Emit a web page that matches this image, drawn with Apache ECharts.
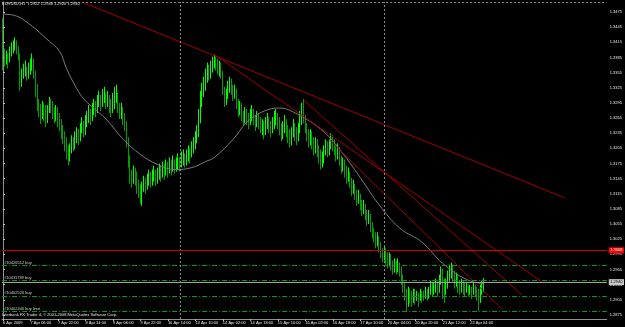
<!DOCTYPE html>
<html><head><meta charset="utf-8">
<script src="https://cdn.jsdelivr.net/npm/echarts@6/dist/echarts.min.js"></script>
<style>html,body{margin:0;padding:0;background:#000;}#c{width:625px;height:327px;}</style>
</head><body><div id="c"></div>
<script>
const symbolTitle = 'EURUSD,H1  1.2922 1.2948 1.2920 1.2940';
const footerText = 'Interbank FX Trader 4, \u00a9 2001-2008 MetaQuotes Software Corp.';
const timeLabels = ['6 Apr 2009','7 Apr 06:00','7 Apr 22:00','8 Apr 14:00','9 Apr 06:00','9 Apr 22:00','10 Apr 14:00','13 Apr 10:00','14 Apr 02:00','14 Apr 18:00','15 Apr 10:00','16 Apr 02:00','16 Apr 18:00','17 Apr 10:00','20 Apr 04:00','20 Apr 20:00','21 Apr 12:00','22 Apr 04:00'];
const priceTicks = [1.2875,1.2905,1.2935,1.2965,1.2995,1.3025,1.3055,1.3085,1.3115,1.3145,1.3175,1.3205,1.3235,1.3265,1.3295,1.3325,1.3355,1.3385,1.3415,1.3445,1.3475];
// [open, close, low, high]
const ohlc = [
[1.3423,1.3393,1.3359,1.3463],[1.3393,1.3383,1.3367,1.3403],[1.3383,1.3387,1.3371,1.3399],[1.3387,1.3379,1.3363,1.3393],[1.3379,1.3393,1.3375,1.3407],
[1.3393,1.3403,1.3387,1.3415],[1.3403,1.3407,1.3393,1.3419],[1.3407,1.3415,1.3399,1.3425],[1.3415,1.3399,1.3391,1.3419],[1.3399,1.3393,1.3379,1.3407],
[1.3393,1.3333,1.3319,1.3393],[1.3333,1.3353,1.3327,1.3363],[1.3353,1.3359,1.3343,1.3373],[1.3359,1.3363,1.3347,1.3379],[1.3363,1.3351,1.3339,1.3367],
[1.3351,1.3359,1.3343,1.3375],[1.3359,1.3367,1.3351,1.3383],[1.3367,1.3379,1.3359,1.3393],[1.3379,1.3353,1.3343,1.3383],[1.3353,1.3323,1.3307,1.3359],
[1.3323,1.3293,1.3279,1.3333],[1.3293,1.3283,1.3267,1.3303],[1.3283,1.3273,1.3253,1.3293],[1.3273,1.3287,1.3263,1.3299],[1.3287,1.3279,1.3259,1.3295],
[1.3279,1.3267,1.3247,1.3291],[1.3267,1.3283,1.3255,1.3291],[1.3283,1.3295,1.3275,1.3307],[1.3295,1.3291,1.3275,1.3303],[1.3291,1.3279,1.3263,1.3299],
[1.3279,1.3271,1.3255,1.3287],[1.3271,1.3279,1.3259,1.3291],[1.3279,1.3267,1.3247,1.3287],[1.3267,1.3253,1.3239,1.3275],[1.3253,1.3243,1.3223,1.3263],
[1.3243,1.3227,1.3213,1.3251],[1.3227,1.3213,1.3199,1.3239],[1.3213,1.3203,1.3183,1.3227],[1.3203,1.3187,1.3171,1.3211],[1.3187,1.3203,1.3179,1.3215],
[1.3203,1.3219,1.3195,1.3231],[1.3219,1.3211,1.3199,1.3227],[1.3211,1.3223,1.3203,1.3239],[1.3223,1.3233,1.3215,1.3247],[1.3233,1.3227,1.3211,1.3243],
[1.3227,1.3243,1.3219,1.3255],[1.3243,1.3251,1.3235,1.3267],[1.3251,1.3239,1.3227,1.3259],[1.3239,1.3255,1.3231,1.3271],[1.3255,1.3267,1.3247,1.3279],
[1.3267,1.3275,1.3255,1.3291],[1.3275,1.3263,1.3251,1.3283],[1.3263,1.3279,1.3259,1.3295],[1.3279,1.3291,1.3271,1.3303],[1.3291,1.3283,1.3267,1.3299],
[1.3283,1.3295,1.3275,1.3311],[1.3295,1.3303,1.3287,1.3319],[1.3303,1.3295,1.3279,1.3311],[1.3295,1.3307,1.3287,1.3323],[1.3307,1.3311,1.3295,1.3327],
[1.3311,1.3299,1.3283,1.3315],[1.3299,1.3303,1.3287,1.3319],[1.3303,1.3291,1.3275,1.3311],[1.3291,1.3283,1.3267,1.3303],[1.3283,1.3295,1.3275,1.3315],
[1.3295,1.3303,1.3283,1.3327],[1.3303,1.3311,1.3295,1.3331],[1.3311,1.3287,1.3275,1.3315],[1.3287,1.3275,1.3263,1.3295],[1.3275,1.3283,1.3263,1.3295],
[1.3283,1.3267,1.3251,1.3287],[1.3267,1.3253,1.3239,1.3275],[1.3253,1.3223,1.3207,1.3259],[1.3223,1.3183,1.3167,1.3227],[1.3183,1.3151,1.3135,1.3191],
[1.3151,1.3143,1.3127,1.3163],[1.3143,1.3159,1.3135,1.3171],[1.3159,1.3147,1.3131,1.3167],[1.3147,1.3131,1.3115,1.3159],[1.3131,1.3123,1.3107,1.3143],
[1.3123,1.3111,1.3095,1.3135],[1.3111,1.3127,1.3091,1.3139],[1.3127,1.3139,1.3119,1.3151],[1.3139,1.3131,1.3115,1.3147],[1.3131,1.3143,1.3123,1.3155],
[1.3143,1.3151,1.3131,1.3163],[1.3151,1.3139,1.3127,1.3159],[1.3139,1.3147,1.3131,1.3163],[1.3147,1.3155,1.3139,1.3171],[1.3155,1.3147,1.3131,1.3163],
[1.3147,1.3151,1.3135,1.3167],[1.3151,1.3159,1.3143,1.3175],[1.3159,1.3155,1.3139,1.3171],[1.3155,1.3163,1.3147,1.3179],[1.3163,1.3159,1.3143,1.3175],
[1.3159,1.3167,1.3151,1.3183],[1.3167,1.3163,1.3147,1.3179],[1.3163,1.3171,1.3155,1.3187],[1.3171,1.3167,1.3151,1.3183],[1.3167,1.3175,1.3159,1.3191],
[1.3175,1.3167,1.3155,1.3183],[1.3167,1.3171,1.3159,1.3187],[1.3171,1.3179,1.3163,1.3195],[1.3179,1.3173,1.3159,1.3187],[1.3173,1.3183,1.3167,1.3199],
[1.3183,1.3187,1.3171,1.3203],[1.3187,1.3179,1.3167,1.3195],[1.3179,1.3187,1.3171,1.3203],[1.3187,1.3195,1.3179,1.3211],[1.3195,1.3191,1.3175,1.3207],
[1.3191,1.3203,1.3187,1.3219],[1.3203,1.3211,1.3195,1.3227],[1.3211,1.3223,1.3203,1.3239],[1.3223,1.3231,1.3215,1.3251],[1.3231,1.3263,1.3227,1.3283],
[1.3263,1.3295,1.3255,1.3319],[1.3295,1.3315,1.3287,1.3335],[1.3315,1.3331,1.3307,1.3347],[1.3331,1.3347,1.3319,1.3363],[1.3347,1.3359,1.3335,1.3375],
[1.3359,1.3351,1.3339,1.3371],[1.3351,1.3367,1.3343,1.3379],[1.3367,1.3375,1.3355,1.3387],[1.3375,1.3379,1.3363,1.3391],[1.3379,1.3371,1.3359,1.3387],
[1.3371,1.3363,1.3351,1.3383],[1.3363,1.3367,1.3347,1.3379],[1.3367,1.3355,1.3343,1.3375],[1.3355,1.3323,1.3311,1.3359],[1.3323,1.3303,1.3287,1.3327],
[1.3303,1.3311,1.3291,1.3323],[1.3311,1.3327,1.3303,1.3339],[1.3327,1.3335,1.3315,1.3347],[1.3335,1.3323,1.3311,1.3343],[1.3323,1.3311,1.3299,1.3331],
[1.3311,1.3319,1.3303,1.3331],[1.3319,1.3295,1.3283,1.3323],[1.3295,1.3279,1.3267,1.3303],[1.3279,1.3287,1.3271,1.3299],[1.3287,1.3271,1.3259,1.3295],
[1.3271,1.3263,1.3251,1.3279],[1.3263,1.3275,1.3255,1.3287],[1.3275,1.3267,1.3251,1.3283],[1.3267,1.3259,1.3243,1.3275],[1.3259,1.3271,1.3251,1.3283],
[1.3271,1.3279,1.3259,1.3291],[1.3279,1.3263,1.3251,1.3283],[1.3263,1.3255,1.3239,1.3271],[1.3255,1.3267,1.3247,1.3279],[1.3267,1.3259,1.3243,1.3275],
[1.3259,1.3247,1.3235,1.3267],[1.3247,1.3251,1.3231,1.3263],[1.3251,1.3239,1.3223,1.3259],[1.3239,1.3255,1.3231,1.3267],[1.3255,1.3263,1.3243,1.3275],
[1.3263,1.3251,1.3235,1.3267],[1.3251,1.3243,1.3227,1.3259],[1.3243,1.3255,1.3235,1.3267],[1.3255,1.3263,1.3243,1.3279],[1.3263,1.3271,1.3251,1.3283],
[1.3271,1.3259,1.3243,1.3275],[1.3259,1.3247,1.3231,1.3267],[1.3247,1.3235,1.3219,1.3255],[1.3235,1.3247,1.3223,1.3259],[1.3247,1.3259,1.3235,1.3271],
[1.3259,1.3243,1.3227,1.3263],[1.3243,1.3231,1.3215,1.3251],[1.3231,1.3223,1.3207,1.3243],[1.3223,1.3235,1.3211,1.3247],[1.3235,1.3247,1.3227,1.3263],
[1.3247,1.3239,1.3219,1.3255],[1.3239,1.3227,1.3211,1.3247],[1.3227,1.3243,1.3219,1.3255],[1.3243,1.3263,1.3235,1.3279],[1.3263,1.3283,1.3251,1.3295],
[1.3283,1.3267,1.3255,1.3303],[1.3267,1.3251,1.3235,1.3271],[1.3251,1.3235,1.3219,1.3255],[1.3235,1.3223,1.3207,1.3243],[1.3223,1.3231,1.3211,1.3243],
[1.3231,1.3219,1.3203,1.3239],[1.3219,1.3207,1.3191,1.3227],[1.3207,1.3215,1.3195,1.3227],[1.3215,1.3203,1.3187,1.3223],[1.3203,1.3191,1.3175,1.3211],
[1.3191,1.3179,1.3163,1.3203],[1.3179,1.3187,1.3167,1.3199],[1.3187,1.3203,1.3175,1.3211],[1.3203,1.3211,1.3191,1.3223],[1.3211,1.3199,1.3187,1.3219],
[1.3199,1.3211,1.3191,1.3223],[1.3211,1.3223,1.3203,1.3235],[1.3223,1.3215,1.3199,1.3231],[1.3215,1.3203,1.3191,1.3223],[1.3203,1.3191,1.3179,1.3211],
[1.3191,1.3203,1.3183,1.3215],[1.3203,1.3183,1.3171,1.3207],[1.3183,1.3167,1.3155,1.3191],[1.3167,1.3175,1.3159,1.3187],[1.3175,1.3163,1.3147,1.3183],
[1.3163,1.3147,1.3135,1.3171],[1.3147,1.3155,1.3139,1.3167],[1.3155,1.3139,1.3127,1.3159],[1.3139,1.3123,1.3111,1.3147],[1.3123,1.3131,1.3115,1.3143],
[1.3131,1.3115,1.3103,1.3135],[1.3115,1.3103,1.3091,1.3123],[1.3103,1.3111,1.3095,1.3123],[1.3111,1.3095,1.3083,1.3115],[1.3095,1.3083,1.3071,1.3103],
[1.3083,1.3091,1.3075,1.3103],[1.3091,1.3075,1.3063,1.3095],[1.3075,1.3063,1.3051,1.3083],[1.3063,1.3071,1.3055,1.3083],[1.3071,1.3051,1.3039,1.3075],
[1.3051,1.3039,1.3027,1.3059],[1.3039,1.3031,1.3019,1.3047],[1.3031,1.3019,1.3007,1.3039],[1.3019,1.3027,1.3011,1.3039],[1.3027,1.3011,1.2999,1.3031],
[1.3011,1.2999,1.2987,1.3019],[1.2999,1.2991,1.2979,1.3007],[1.2991,1.3003,1.2983,1.3011],[1.3003,1.2991,1.2975,1.3007],[1.2991,1.2979,1.2967,1.2999],
[1.2979,1.2987,1.2971,1.2999],[1.2987,1.2975,1.2963,1.2995],[1.2975,1.2967,1.2955,1.2983],[1.2967,1.2975,1.2959,1.2987],[1.2975,1.2971,1.2955,1.2983],
[1.2971,1.2979,1.2959,1.2987],[1.2979,1.2967,1.2951,1.2979],[1.2967,1.2951,1.2935,1.2971],[1.2951,1.2935,1.2919,1.2955],[1.2935,1.2919,1.2903,1.2939],
[1.2919,1.2907,1.2883,1.2927],[1.2907,1.2923,1.2891,1.2931],[1.2923,1.2915,1.2899,1.2927],[1.2915,1.2907,1.2891,1.2923],[1.2907,1.2919,1.2899,1.2927],
[1.2919,1.2911,1.2895,1.2927],[1.2911,1.2915,1.2903,1.2923],[1.2915,1.2907,1.2891,1.2919],[1.2907,1.2919,1.2903,1.2927],[1.2919,1.2915,1.2899,1.2923],
[1.2915,1.2911,1.2903,1.2923],[1.2911,1.2923,1.2907,1.2931],[1.2923,1.2915,1.2903,1.2927],[1.2915,1.2919,1.2907,1.2931],[1.2919,1.2931,1.2915,1.2943],
[1.2931,1.2923,1.2911,1.2939],[1.2923,1.2927,1.2915,1.2939],[1.2927,1.2935,1.2919,1.2947],[1.2935,1.2927,1.2911,1.2943],[1.2927,1.2943,1.2919,1.2955],
[1.2943,1.2963,1.2935,1.2971],[1.2963,1.2943,1.2907,1.2967],[1.2943,1.2923,1.2899,1.2947],[1.2923,1.2935,1.2915,1.2947],[1.2935,1.2951,1.2927,1.2963],
[1.2951,1.2959,1.2939,1.2975],[1.2959,1.2971,1.2947,1.2979],[1.2971,1.2955,1.2939,1.2975],[1.2955,1.2943,1.2927,1.2963],[1.2943,1.2951,1.2931,1.2959],
[1.2951,1.2935,1.2919,1.2955],[1.2935,1.2927,1.2915,1.2943],[1.2927,1.2939,1.2919,1.2947],[1.2939,1.2931,1.2915,1.2943],[1.2931,1.2923,1.2911,1.2939],
[1.2923,1.2931,1.2919,1.2939],[1.2931,1.2923,1.2911,1.2935],[1.2923,1.2927,1.2915,1.2935],[1.2927,1.2919,1.2907,1.2931],[1.2919,1.2931,1.2915,1.2939],
[1.2931,1.2923,1.2911,1.2935],[1.2923,1.2919,1.2903,1.2931],[1.2919,1.2903,1.2883,1.2927],[1.2903,1.2923,1.2899,1.2935],[1.2923,1.2923,1.2915,1.2943],
[1.2922,1.2940,1.2920,1.2948]
];
const maIdx = [0,8,17,25,33,37,43,47,52,60,70,80,90,100,110,118,123,134,142,152,161,169,185,196,208,219,231,244,256,270,280];
const maVal = [1.3471,1.3467,1.3447,1.3423,1.3397,1.3363,1.3323,1.3303,1.3287,1.3263,1.3223,1.3193,1.3173,1.3163,1.3167,1.3179,1.3187,1.3223,1.3257,1.3279,1.3285,1.3277,1.3243,1.3203,1.3147,1.3093,1.3047,1.3019,1.2977,1.2945,1.2937];
// trend lines: [barIndex, price] pairs
const trendA = [[46,1.3495],[327,1.3107]];
const trendB = [[123,1.3391],[314,1.2940]];
const trendC = [[175,1.3301],[302,1.2915]];
const trendD = [[190,1.3222],[291,1.2885]];
const orderLevels = [1.2973,1.2943,1.2913,1.2883];
const orderNames = ['#10426512 buy','#10411789 buy','#10402520 buy','#10402440 buy limit'];
const bidPrice = 1.2940;
const alertLevel = 1.3003;
const weekSeparators = [103,222];
const SLOTS = 352;

const chart = echarts.init(document.getElementById('c'), null, {renderer:'canvas'});
const FONT = 'Liberation Sans';
const labelEvery = (i) => i % 16 === 0 && i / 16 < timeLabels.length;
const lineSeries = (data) => ({type:'line', xAxisIndex:1, data, symbol:'none', silent:true, clip:true,
  lineStyle:{color:'#a00000', width:1}, z:3});

const markData = [];
weekSeparators.forEach(i => markData.push({xAxis:i, lineStyle:{color:'#8a8a8a', type:[2,2], width:1}, label:{show:false}}));
markData.push({yAxis:1.3494, lineStyle:{color:'#8a8a8a', type:[2,2], width:1}, label:{show:false}});
orderLevels.forEach((p,k) => markData.push({yAxis:p, lineStyle:{color:'#109a10', type:[5,2,1,2], width:1},
  label:{show:true, position:'insideStartTop', formatter:orderNames[k], color:'#d0d0d0', fontSize:4, fontFamily:FONT, distance:[2,0.5]}}));
markData.push({yAxis:bidPrice, lineStyle:{color:'#a0a0a0', type:'solid', width:1},
  label:{show:true, position:'end', formatter:bidPrice.toFixed(4), color:'#000', backgroundColor:'#c8c8c8', fontSize:4, fontFamily:FONT, padding:[1,1.5], distance:2}});
markData.push({yAxis:alertLevel, lineStyle:{color:'#d00000', type:'solid', width:1.2},
  label:{show:true, position:'end', formatter:'1.3008', color:'#fff', backgroundColor:'#ff0000', fontSize:4, fontFamily:FONT, padding:[1,1.5], distance:2}});

chart.setOption({
  animation:false,
  backgroundColor:'#000',
  grid:{left:0, top:2, width:608, height:317, containLabel:false},
  title:{text:symbolTitle, left:2, top:2, padding:0, textStyle:{color:'#e0e0e0', fontSize:4, fontWeight:'normal', fontFamily:FONT}},
  graphic:[{type:'text', left:2, top:313, style:{text:footerText, fill:'#e0e0e0', fontSize:4, fontFamily:FONT}}],
  xAxis:[
    {type:'category', data:Array.from({length:SLOTS},(_,i)=>String(i)), boundaryGap:true,
     axisLine:{show:true, lineStyle:{color:'#909090', width:1}},
     axisTick:{show:true, interval:labelEvery, alignWithLabel:true, length:2, lineStyle:{color:'#c0c0c0'}},
     axisLabel:{interval:labelEvery, formatter:(v,i)=>timeLabels[i/16]||'', align:'left', color:'#e8e8e8', fontSize:4, fontFamily:FONT, margin:2},
     splitLine:{show:false}},
    {type:'value', min:-0.5, max:SLOTS-0.5, show:false}
  ],
  yAxis:{type:'value', position:'right', min:1.2867, max:1.3495,
    axisLine:{show:true, lineStyle:{color:'#909090', width:1}},
    axisTick:{show:true, customValues:priceTicks, length:2, lineStyle:{color:'#c0c0c0'}},
    axisLabel:{customValues:priceTicks, formatter:v=>v.toFixed(4), color:'#e8e8e8', fontSize:4, fontFamily:FONT, margin:3, padding:[3,0,0,0]},
    splitLine:{show:false}},
  series:[
    {type:'candlestick', xAxisIndex:0, data:ohlc, barWidth:1, z:2,
     itemStyle:{color:'#00ff00', color0:'#00a000', borderColor:'#00ff00', borderColor0:'#00a000', borderWidth:1},
     markLine:{silent:true, symbol:'none', precision:4, animation:false, data:markData}},
    {type:'line', xAxisIndex:1, data:maIdx.map((x,k)=>[x,maVal[k]]), symbol:'none', smooth:0.4, silent:true,
     lineStyle:{color:'#7c7c7c', width:1}, z:3},
    lineSeries(trendA), lineSeries(trendB), lineSeries(trendC), lineSeries(trendD)
  ]
});
</script></body></html>
